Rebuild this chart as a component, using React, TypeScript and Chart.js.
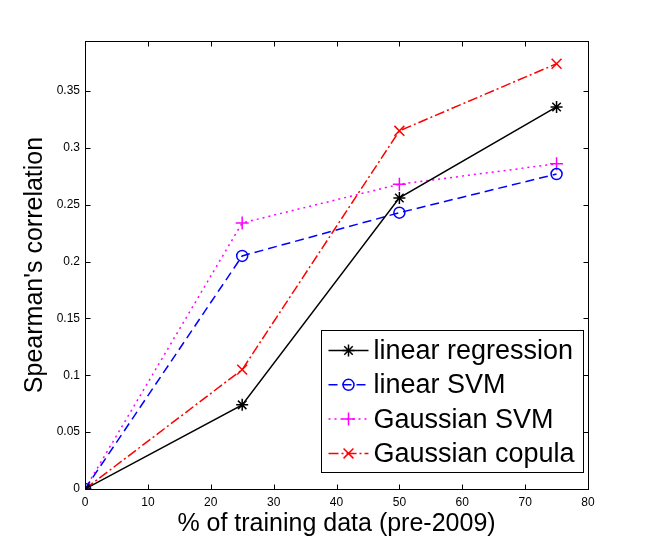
import { useEffect, useRef } from "react";
import { Chart, registerables } from "chart.js";
import { drawPoint } from "chart.js/helpers";

Chart.register(...registerables);

const trainingPercent = [0, 25, 50, 75];
const linearRegression = [0, 0.074, 0.256, 0.336];
const linearSvm = [0, 0.205, 0.243, 0.277];
const gaussianSvm = [0, 0.234, 0.268, 0.286];
const gaussianCopula = [0, 0.105, 0.315, 0.374];

const seriesLabels = ["linear regression", "linear SVM", "Gaussian SVM", "Gaussian copula"];
const xTickValues = [0, 10, 20, 30, 40, 50, 60, 70, 80];
const yTickValues = [0, 0.05, 0.1, 0.15, 0.2, 0.25, 0.3, 0.35];

const FONT = "'Liberation Sans', Arial, Helvetica, sans-serif";

const toPoints = (ys: number[]) => trainingPercent.map((x, i) => ({ x, y: ys[i] }));

// MATLAB-like box with inward ticks on all sides, plus the legend box
const matlabFrame = {
  id: "matlabFrame",
  afterDraw(chart: any) {
    const { ctx, chartArea: a, scales } = chart;
    ctx.save();
    ctx.strokeStyle = "#000";
    ctx.lineWidth = 1;
    ctx.setLineDash([]);
    const L = Math.round(a.left) + 0.5;
    const R = Math.round(a.right) + 0.5;
    const T = Math.round(a.top) + 0.5;
    const B = Math.round(a.bottom) + 0.5;
    ctx.strokeRect(L, T, R - L, B - T);
    const tl = 5;
    ctx.beginPath();
    xTickValues.forEach((v) => {
      const px = Math.round(scales.x.getPixelForValue(v)) + 0.5;
      ctx.moveTo(px, B);
      ctx.lineTo(px, B - tl);
      ctx.moveTo(px, T);
      ctx.lineTo(px, T + tl);
    });
    yTickValues.forEach((v) => {
      const py = Math.round(scales.y.getPixelForValue(v)) + 0.5;
      ctx.moveTo(L, py);
      ctx.lineTo(L + tl, py);
      ctx.moveTo(R, py);
      ctx.lineTo(R - tl, py);
    });
    ctx.stroke();

    // legend
    const boxW = 262;
    const boxH = 142;
    const bx = Math.round(a.right - 5 - boxW) + 0.5;
    const by = Math.round(a.bottom - 17 - boxH) + 0.5;
    ctx.fillStyle = "#fff";
    ctx.fillRect(bx, by, boxW, boxH);
    ctx.strokeRect(bx, by, boxW, boxH);
    ctx.font = `27px ${FONT}`;
    ctx.textBaseline = "middle";
    ctx.textAlign = "left";
    chart.data.datasets.forEach((ds: any, i: number) => {
      const y = by + 20 + i * 34.3;
      ctx.strokeStyle = ds.borderColor;
      ctx.lineWidth = ds.borderWidth;
      ctx.setLineDash(ds.borderDash || []);
      ctx.beginPath();
      ctx.moveTo(bx + 7, y);
      ctx.lineTo(bx + 47, y);
      ctx.stroke();
      ctx.setLineDash([]);
      ctx.fillStyle = "rgba(0,0,0,0)";
      ctx.lineWidth = ds.pointBorderWidth;
      drawPoint(ctx, { pointStyle: ds.pointStyle, radius: ds.pointRadius, borderWidth: ds.pointBorderWidth, rotation: 0 } as any, bx + 27, y);
      ctx.fillStyle = "#000";
      ctx.fillText(ds.label, bx + 52, y + 1);
    });
    ctx.restore();
  },
};

export default function App() {
  const canvasRef = useRef<HTMLCanvasElement>(null);
  const chartRef = useRef<Chart | null>(null);

  useEffect(() => {
    if (chartRef.current) chartRef.current.destroy();
    if (!canvasRef.current) return;

    const common = {
      showLine: true,
      borderWidth: 1.5,
      pointBorderWidth: 1.5,
      pointBackgroundColor: "rgba(0,0,0,0)",
      fill: false,
      tension: 0,
    };

    chartRef.current = new Chart(canvasRef.current, {
      type: "scatter",
      data: {
        datasets: [
          {
            ...common,
            label: seriesLabels[0],
            data: toPoints(linearRegression),
            borderColor: "#000000",
            pointBorderColor: "#000000",
            borderDash: [],
            pointStyle: "star",
            pointRadius: 6,
          },
          {
            ...common,
            label: seriesLabels[1],
            data: toPoints(linearSvm),
            borderColor: "#0000ff",
            pointBorderColor: "#0000ff",
            borderDash: [9, 5],
            pointStyle: "circle",
            pointRadius: 5.5,
          },
          {
            ...common,
            label: seriesLabels[2],
            data: toPoints(gaussianSvm),
            borderColor: "#ff00ff",
            pointBorderColor: "#ff00ff",
            borderDash: [2, 4],
            pointStyle: "cross",
            pointRadius: 6.5,
          },
          {
            ...common,
            label: seriesLabels[3],
            data: toPoints(gaussianCopula),
            borderColor: "#ff0000",
            pointBorderColor: "#ff0000",
            borderDash: [10, 3, 2, 3],
            pointStyle: "crossRot",
            pointRadius: 7,
          },
        ] as any,
      },
      options: {
        animation: false,
        responsive: true,
        maintainAspectRatio: false,
        layout: { padding: { top: 41, right: 62, left: 0, bottom: 0 } },
        plugins: {
          legend: { display: false },
          tooltip: { enabled: false },
        },
        scales: {
          x: {
            type: "linear",
            min: 0,
            max: 80,
            afterBuildTicks: (s: any) => {
              s.ticks = xTickValues.map((value) => ({ value }));
            },
            afterFit: (s: any) => {
              s.height = 61;
            },
            grid: { display: false, drawTicks: false },
            border: { display: false },
            ticks: {
              color: "#000",
              font: { family: FONT, size: 12 },
              padding: 6,
              maxRotation: 0,
              autoSkip: false,
            },
            title: {
              display: true,
              text: "% of training data (pre-2009)",
              color: "#000",
              font: { family: FONT, size: 25, lineHeight: 1 },
              padding: { top: 0, bottom: 13 },
            },
          },
          y: {
            type: "linear",
            min: 0,
            max: 0.394,
            afterBuildTicks: (s: any) => {
              s.ticks = yTickValues.map((value) => ({ value }));
            },
            afterFit: (s: any) => {
              s.width = 85;
            },
            grid: { display: false, drawTicks: false },
            border: { display: false },
            ticks: {
              color: "#000",
              font: { family: FONT, size: 12 },
              padding: 5,
              autoSkip: false,
              callback: (v: any) => String(Number(Number(v).toFixed(2))),
            },
            title: {
              display: true,
              text: "Spearman's correlation",
              color: "#000",
              font: { family: FONT, size: 25, lineHeight: 1 },
              padding: { top: 23, bottom: 0 },
            },
          },
        },
      },
      plugins: [matlabFrame],
    });

    return () => {
      if (chartRef.current) {
        chartRef.current.destroy();
        chartRef.current = null;
      }
    };
  }, []);

  return (
    <div style={{ position: "fixed", left: 0, top: 0, width: 650, height: 550, background: "#fff" }}>
      <canvas ref={canvasRef}></canvas>
    </div>
  );
}
